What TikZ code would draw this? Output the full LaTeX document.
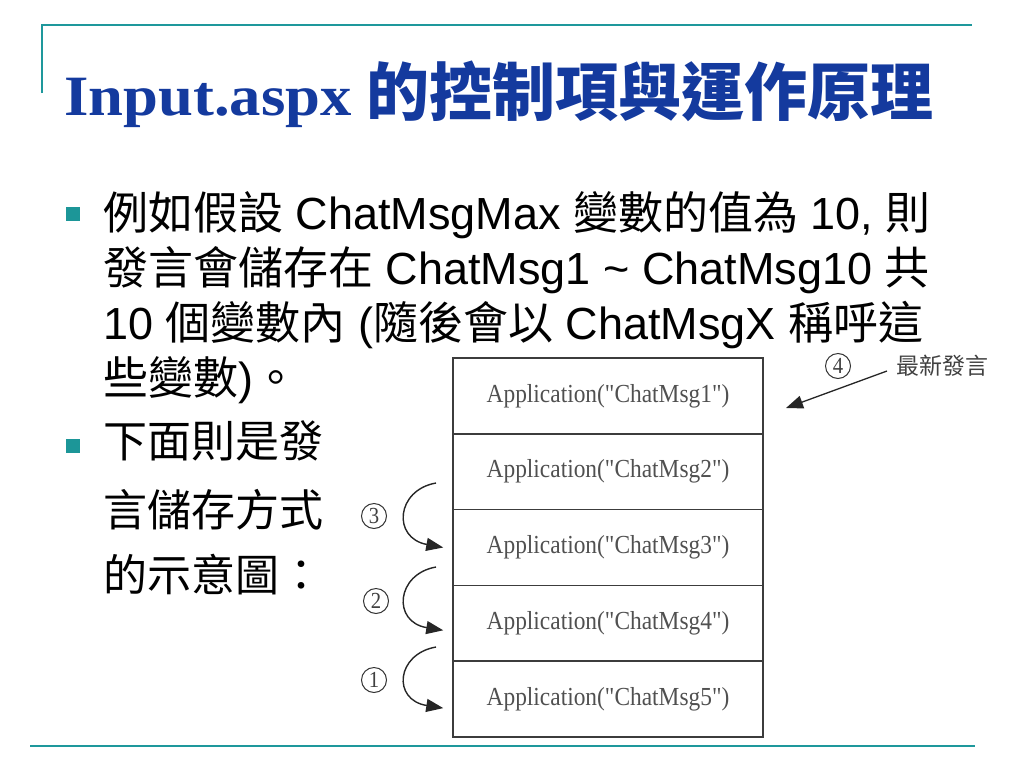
\documentclass[tikz,border=0pt]{standalone}
\usepackage{fontspec}
\usetikzlibrary{arrows.meta}
\setmainfont{Liberation Sans}
\newfontfamily\titlelat[FakeStretch=1.1]{Liberation Serif}
\newfontfamily\cjk{Noto Sans CJK TC}
\newfontfamily\diag[FakeStretch=0.9]{Liberation Serif}
\definecolor{titleblue}{RGB}{20,58,158}
\definecolor{tealline}{RGB}{30,152,156}
\definecolor{bulletteal}{RGB}{28,150,152}
\definecolor{diaggray}{RGB}{80,80,80}
\definecolor{boxgray}{RGB}{60,60,60}
\tikzset{
  bodytext/.style={anchor=base west, inner sep=0pt, font=\fontsize{45}{45}\selectfont, text=black},
  bodytextb/.style={anchor=base west, inner sep=0pt, font=\fontsize{44}{44}\selectfont, text=black},
  bulletsq/.style={fill=bulletteal, minimum width=14pt, minimum height=14pt, inner sep=0pt},
  rowbox/.style={draw=boxgray, line width=1.5pt, minimum width=310pt, minimum height=75.8pt, inner sep=0pt,
    font=\diag\fontsize{26}{26}\selectfont, text=diaggray},
  circnum/.style={circle, draw=black!80, line width=1pt, minimum size=25pt, inner sep=0pt,
    font=\diag\fontsize{23}{23}\selectfont, text=black!75},
  curvearrow/.style={draw=black!85, line width=1.4pt, -{Triangle[length=17pt,width=13pt]}},
  tealrule/.style={draw=tealline, line width=2pt}
}
\begin{document}
\begin{tikzpicture}[x=1pt,y=-1pt]
\useasboundingbox (0,0) rectangle (1024,768);
% frame lines
\coordinate (tl) at (42,25);
\coordinate (tr) at (972,25);
\coordinate (tv) at (42,93);
\coordinate (bl) at (30,746);
\coordinate (br) at (975,746);
\draw[tealrule] (tv) -- (tl) -- (tr);
\draw[tealrule, line width=2.6pt] (bl) -- (br);
% title
\node[anchor=base west, inner sep=0pt, text=titleblue] (title) at (64,115)
  {{\titlelat\bfseries\fontsize{57}{57}\selectfont Input.aspx}\hspace{15pt}{\cjk\bfseries\fontsize{63}{63}\selectfont 的控制項與運作原理}};
% bullets
\node[bulletsq] (b1) at (73,214) {};
\node[bulletsq] (b2) at (73,446) {};
\node[bodytext] (l1) at (103,229) {{\cjk 例如假設} ChatMsgMax {\cjk 變數的值為} 10, {\cjk 則}};
\node[bodytext] (l2) at (103,284) {{\cjk 發言會儲存在} ChatMsg1 \textasciitilde{} ChatMsg10 {\cjk 共}};
\node[bodytext] (l3) at (103,339) {10 {\cjk 個變數內} ({\cjk 隨後會以} ChatMsgX {\cjk 稱呼這}};
\node[bodytext] (l4) at (103,394) {{\cjk 些變數}){\cjk 。}};
\node[bodytextb] (m1) at (103,457) {{\cjk 下面則是發}};
\node[bodytextb] (m2) at (103,526) {{\cjk 言儲存方式}};
\node[bodytextb] (m3) at (103,591) {{\cjk 的示意圖：}};
% diagram
\node[rowbox] (r1) at (608,395.9) {Application("ChatMsg1")};
\node[rowbox] (r2) at (608,471.7) {Application("ChatMsg2")};
\node[rowbox] (r3) at (608,547.5) {Application("ChatMsg3")};
\node[rowbox] (r4) at (608,623.3) {Application("ChatMsg4")};
\node[rowbox] (r5) at (608,699.1) {Application("ChatMsg5")};
% circled numbers
\node[circnum] (n4) at (838,366) {4};
\node[circnum] (n3) at (374,516) {3};
\node[circnum] (n2) at (376,601) {2};
\node[circnum] (n1) at (374,680) {1};
\node[anchor=west, inner sep=0pt, text=black!75, font=\cjk\fontsize{23}{23}\selectfont] (newest) at (896,366) {最新發言};
% arrow 4
\coordinate (a4s) at (887,371);
\coordinate (a4t) at (786,408);
\draw[curvearrow, line width=1.3pt] (a4s) -- (a4t);
% curved arrows
\coordinate (c3s) at (436,483);
\coordinate (c3t) at ([xshift=-9pt]r3.west);
\draw[curvearrow] (c3s) .. controls (396,490) and (392,538) .. (c3t);
\coordinate (c2s) at (436,567);
\coordinate (c2t) at ([xshift=-9pt,yshift=-7pt]r4.west);
\draw[curvearrow] (c2s) .. controls (396,574) and (392,622) .. (c2t);
\coordinate (c1s) at (436,647);
\coordinate (c1t) at ([xshift=-9pt,yshift=-9pt]r5.west);
\draw[curvearrow] (c1s) .. controls (396,654) and (392,700) .. (c1t);
\end{tikzpicture}
\end{document}
